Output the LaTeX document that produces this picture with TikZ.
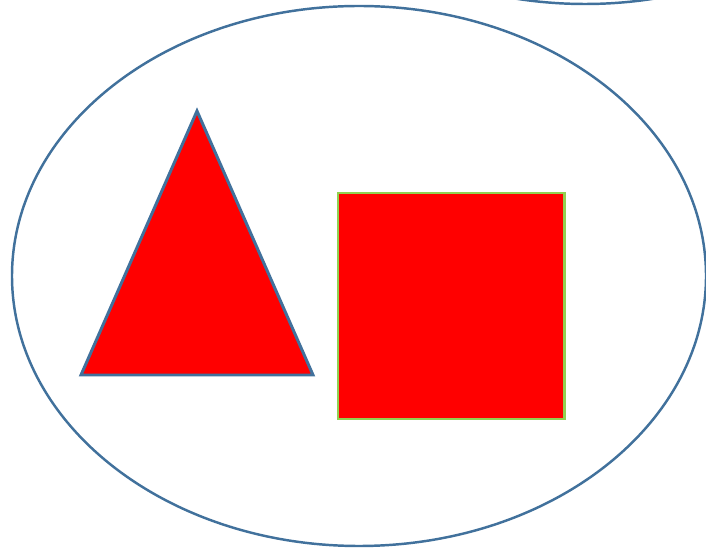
\documentclass[tikz,border=0pt]{standalone}
\usepackage{tikz}
\usetikzlibrary{calc}

\definecolor{rimblue}{HTML}{41719C}
\definecolor{rimgreen}{HTML}{92D050}

\begin{document}
\begin{tikzpicture}[
  x=0.01cm, y=-0.01cm,
  outline/.style={draw=rimblue, line width=0.7pt},
  shapefill/.style={fill=red, line join=miter},
  tri/.style={shapefill, draw=rimblue, line width=0.85pt},
  sq/.style={shapefill, draw=rimgreen, line width=0.85pt},
]

%% ── Page frame ────────────────────────────────────────────────────────────
\useasboundingbox (0,0) rectangle (706,549);
\clip (0,0) rectangle (706,549);

%% ── Ellipses ──────────────────────────────────────────────────────────────
\draw[outline] (359,276) ellipse [x radius=347, y radius=270];
\draw[outline] (585,-266) ellipse [x radius=347, y radius=270];

%% ── Triangle ──────────────────────────────────────────────────────────────
\coordinate (apex)  at (197,111);
\coordinate (baseL) at (81,375);
\coordinate (baseR) at (313,375);
\draw[tri] (apex) -- (baseR) -- (baseL) -- cycle;

%% ── Square ────────────────────────────────────────────────────────────────
\draw[sq] (338,193) rectangle (564,419);

\end{tikzpicture}
\end{document}
